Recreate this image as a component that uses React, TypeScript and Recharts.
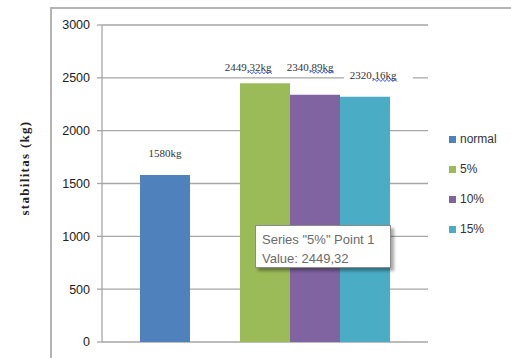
import { BarChart, Bar, XAxis, YAxis, CartesianGrid, LabelList } from 'recharts';

// one measurement group; the empty slot keeps "normal" apart from the mixes
const categories = ['stabilitas'];
const seriesKeys = ['normal', 'gap', 'p5', 'p10', 'p15'];
const seriesNames = ['normal', '', '5%', '10%', '15%'];
const seriesValues = [1580, null, 2449.32, 2340.89, 2320.16];
const yTicks = [0, 500, 1000, 1500, 2000, 2500, 3000];

const colors: Record<string, string> = {
  normal: '#4f81bd',
  gap: 'transparent',
  p5: '#9bbb59',
  p10: '#8064a2',
  p15: '#4bacc6',
};

// hand-placed value labels (offset from the bar top centre, white box padding)
const labelOffsets: Record<string, { dx: number; dy: number; padL: number; padR: number }> = {
  normal: { dx: 0, dy: -22, padL: 4, padR: 4 },
  p5: { dx: -17, dy: -16, padL: 12, padR: 5 },
  p10: { dx: -5, dy: -28, padL: 5, padR: 5 },
  p15: { dx: 8, dy: -22, padL: 5, padR: 16 },
};

const data = categories.map((name) => {
  const row: Record<string, string | number | null> = { name };
  seriesKeys.forEach((k, i) => {
    row[k] = seriesValues[i];
  });
  return row;
});

const fmt = (v: number) => (Number.isInteger(v) ? String(v) : v.toFixed(2).replace('.', ','));

const AXIS = '#a6a6a6';

const makeLabel = (key: string) => (props: any) => {
  const { x, y, width, value } = props;
  if (value == null) return null;
  const off = labelOffsets[key];
  const cx = x + width / 2 + off.dx;
  const cy = y + off.dy;
  const text = fmt(value) + 'kg';
  const w = text.length * 5.3;
  const squiggle = !Number.isInteger(value);
  // spell-check wave under the decimals + unit
  let wave = '';
  if (squiggle) {
    const start = cx + w / 2 - 24;
    const end = cx + w / 2;
    const by = cy + 5.5;
    wave = `M${start},${by}`;
    for (let px = start + 2, up = true; px <= end; px += 2, up = !up) {
      wave += ` L${px},${by + (up ? -1.2 : 1.2)}`;
    }
  }
  return (
    <g>
      <rect x={cx - w / 2 - off.padL} y={cy - 8} width={w + off.padL + off.padR} height={16} fill="#fff" />
      <text
        x={cx}
        y={cy}
        textAnchor="middle"
        dominantBaseline="central"
        fontSize={11}
        fontFamily="'Liberation Serif', serif"
        fill="#333"
      >
        {text}
      </text>
      {squiggle && <path d={wave} stroke="#3355ee" strokeWidth={0.9} fill="none" />}
    </g>
  );
};

export default function App() {
  const hoverIdx = 2;
  return (
    <div style={{ position: 'fixed', left: 0, top: 0, width: 511, height: 358, background: '#fff', overflow: 'hidden' }}>
      <div
        style={{
          position: 'absolute',
          left: 50,
          top: 7,
          width: 480,
          height: 380,
          borderLeft: '2px solid #b4b4b4',
          borderTop: '2px solid #b4b4b4',
        }}
      />
      <BarChart
        width={511}
        height={358}
        data={data}
        margin={{ top: 25, right: 83, left: 42, bottom: 16 }}
        barCategoryGap={38}
        barGap={0}
        style={{ position: 'absolute', left: 0, top: 0 }}
      >
        <CartesianGrid horizontal vertical={false} stroke={AXIS} strokeWidth={1.3} />
        <XAxis dataKey="name" hide />
        <YAxis
          width={60}
          domain={[0, 3000]}
          ticks={yTicks}
          interval={0}
          axisLine={{ stroke: AXIS, strokeWidth: 1.3 }}
          tickLine={{ stroke: AXIS, strokeWidth: 1.3 }}
          tickSize={5}
          tickMargin={7}
          tick={{ fontSize: 12.5, fill: '#222', fontFamily: "'Liberation Sans', Arial, sans-serif" }}
        />
        {seriesKeys.map((k, i) => (
          <Bar key={k} dataKey={k} name={seriesNames[i]} fill={colors[k]} isAnimationActive={false}>
            {k !== 'gap' && <LabelList dataKey={k} content={makeLabel(k)} />}
          </Bar>
        ))}
      </BarChart>
      <div
        style={{
          position: 'absolute',
          left: 449,
          top: 124,
          fontFamily: "'Liberation Sans', Arial, sans-serif",
          fontSize: 12,
          color: '#333',
        }}
      >
        {seriesKeys.map((k, i) =>
          k === 'gap' ? null : (
            <div key={k} style={{ display: 'flex', alignItems: 'center', height: 30 }}>
              <span style={{ width: 7, height: 7, background: colors[k], marginRight: 4 }} />
              <span>{seriesNames[i]}</span>
            </div>
          )
        )}
      </div>
      <div
        style={{
          position: 'absolute',
          left: 25,
          top: 168,
          transform: 'translate(-50%, -50%) rotate(-90deg)',
          whiteSpace: 'nowrap',
          fontFamily: "'Liberation Serif', serif",
          fontWeight: 'bold',
          fontSize: 13,
          letterSpacing: 1.3,
          color: '#222',
        }}
      >
        stabilitas (kg)
      </div>
      <div
        style={{
          position: 'absolute',
          left: 255,
          top: 225,
          width: 136,
          height: 43,
          background: '#fff',
          border: '1px solid #8a8a8a',
          boxShadow: '3px 3px 3px rgba(0,0,0,0.35)',
          fontFamily: "'Liberation Sans', Arial, sans-serif",
          fontSize: 13,
          color: '#6b6b6b',
          padding: '4px 0 0 6px',
          boxSizing: 'border-box',
          lineHeight: '19px',
        }}
      >
        <div>Series "{seriesNames[hoverIdx]}" Point 1</div>
        <div>Value: {fmt(seriesValues[hoverIdx] as number)}</div>
      </div>
    </div>
  );
}
